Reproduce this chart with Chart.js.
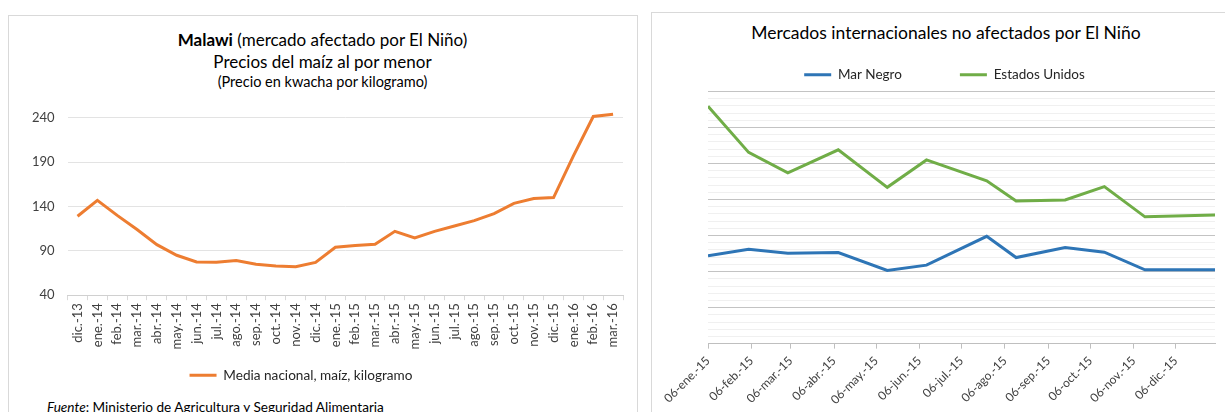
<!DOCTYPE html>
<html>
<head>
<meta charset="utf-8">
<script src="https://cdn.jsdelivr.net/npm/chart.js@4.4.0/dist/chart.umd.min.js"></script>
<style>
  body { margin: 0; width: 1225px; height: 412px; overflow: hidden; background: #fff; font-family: Lato, sans-serif; }
  .panel { position: absolute; border: 1px solid #d9d9d9; border-bottom: none; }
  .box { position: absolute; }
  .ttl { position: absolute; text-align: center; color: #000; white-space: nowrap; }
</style>
</head>
<body>
<div class="panel" style="left:8px; top:15px; width:628px; height:420px;"></div>
<div class="panel" style="left:651px; top:12px; width:600px; height:420px;"></div>

<div class="ttl" style="left:9px; width:627px; top:29px; font-size:17px; line-height:22px;">
  <b>Malawi</b> (mercado afectado por El Niño)<br>Precios del maíz al por menor
</div>
<div class="ttl" style="left:9px; width:627px; top:72px; font-size:14.5px; line-height:19px;">(Precio en kwacha por kilogramo)</div>
<div class="ttl" style="left:47px; top:398px; font-size:13.6px; line-height:18px; text-align:left;"><i>Fuente</i>: Ministerio de Agricultura y Seguridad Alimentaria</div>

<div class="ttl" style="left:652px; width:588px; top:21px; font-size:17.5px; line-height:24px;">Mercados internacionales no afectados por El Niño</div>

<div class="box" style="left:9px; top:97px; width:627px; height:298px;"><canvas id="malawi"></canvas></div>
<div class="box" style="left:652px; top:9px; width:588px; height:403px;"><canvas id="intl"></canvas></div>

<script>
// Malawi, precio del maíz al por menor (kwacha/kg)
const months = ['dic.-13', 'ene.-14', 'feb.-14', 'mar.-14', 'abr.-14', 'may.-14', 'jun.-14', 'jul.-14',
  'ago.-14', 'sep.-14', 'oct.-14', 'nov.-14', 'dic.-14', 'ene.-15', 'feb.-15', 'mar.-15', 'abr.-15',
  'may.-15', 'jun.-15', 'jul.-15', 'ago.-15', 'sep.-15', 'oct.-15', 'nov.-15', 'dic.-15', 'ene.-16',
  'feb.-16', 'mar.-16'];
const mediaNacional = [129, 147, 130, 114, 97, 85, 77.5, 77, 79, 75, 73, 72, 77, 94, 96, 97.5, 112,
  104.5, 112, 118, 124, 132, 143.5, 149, 150, 197, 241.5, 244];

// mercados internacionales
const priceDates = ['2015-01-06', '2015-02-04', '2015-03-04', '2015-04-09', '2015-05-14', '2015-06-11',
  '2015-07-24', '2015-08-14', '2015-09-18', '2015-10-16', '2015-11-14', '2016-01-03'];
const marNegro = [154.4, 156.2, 155.1, 155.3, 150.3, 151.8, 159.8, 153.9, 156.7, 155.4, 150.5, 150.5];
const estadosUnidos = [195.9, 183.1, 177.4, 183.8, 173.4, 181, 175.2, 169.6, 169.9, 173.6, 165.2, 165.7];
const tickDates = ['2015-01-06', '2015-02-06', '2015-03-06', '2015-04-06', '2015-05-06', '2015-06-06',
  '2015-07-06', '2015-08-06', '2015-09-06', '2015-10-06', '2015-11-06', '2015-12-06'];
const tickLabels = ['06-ene.-15', '06-feb.-15', '06-mar.-15', '06-abr.-15', '06-may.-15', '06-jun.-15',
  '06-jul.-15', '06-ago.-15', '06-sep.-15', '06-oct.-15', '06-nov.-15', '06-dic.-15'];

function toDay(s) {
  return Date.UTC(+s.slice(0, 4), +s.slice(5, 7) - 1, +s.slice(8, 10)) / 864e5;
}

Chart.defaults.font.family = 'Lato, sans-serif';
Chart.defaults.animation = false;

// moves the legend sideways (Excel did not centre it)
const legendShift = {
  id: 'legendShift',
  afterLayout(chart, args, opts) {
    chart.legend.left += opts.dx || 0;
    chart.legend.right += opts.dx || 0;
  }
};

new Chart(document.getElementById('malawi'), {
  type: 'line',
  data: {
    labels: months,
    datasets: [{
      label: 'Media nacional, maíz, kilogramo',
      data: mediaNacional,
      borderColor: '#ED7D31',
      backgroundColor: '#ED7D31',
      borderWidth: 3,
      pointRadius: 0,
      tension: 0,
      clip: 10
    }]
  },
  plugins: [legendShift],
  options: {
    responsive: true,
    maintainAspectRatio: false,
    layout: { padding: { left: 10, right: 13, top: 11, bottom: 3 } },
    plugins: {
      legendShift: { dx: -20 },
      tooltip: { enabled: false },
      legend: {
        position: 'bottom',
        labels: {
          usePointStyle: true, pointStyle: 'line', pointStyleWidth: 27,
          font: { size: 13.6 }, color: '#262626', padding: 16
        }
      }
    },
    scales: {
      x: {
        offset: true,
        grid: { offset: true, drawOnChartArea: false, tickLength: 5, color: '#d9d9d9' },
        border: { color: '#d0d0d0' },
        ticks: { minRotation: 90, maxRotation: 90, autoSkip: false, font: { size: 13 }, color: '#404040', padding: 3 }
      },
      y: {
        min: 40, max: 240,
        grid: { drawTicks: false, color: '#e3e3e3' },
        border: { display: false },
        ticks: { stepSize: 50, padding: 13, font: { size: 13 }, color: '#404040' }
      }
    }
  }
});

const tickDays = tickDates.map(toDay);

new Chart(document.getElementById('intl'), {
  type: 'line',
  data: {
    datasets: [{
      label: 'Mar Negro',
      data: priceDates.map((d, i) => ({ x: toDay(d), y: marNegro[i] })),
      borderColor: '#2E75B6',
      backgroundColor: '#2E75B6',
      borderWidth: 3,
      pointRadius: 0,
      tension: 0
    }, {
      label: 'Estados Unidos',
      data: priceDates.map((d, i) => ({ x: toDay(d), y: estadosUnidos[i] })),
      borderColor: '#70AD47',
      backgroundColor: '#70AD47',
      borderWidth: 3,
      pointRadius: 0,
      tension: 0
    }]
  },
  plugins: [legendShift],
  options: {
    responsive: true,
    maintainAspectRatio: false,
    layout: { padding: { left: 56, right: 25, top: 1, bottom: 0 } },
    plugins: {
      legendShift: { dx: -17 },
      tooltip: { enabled: false },
      legend: {
        position: 'top',
        labels: {
          usePointStyle: true, pointStyle: 'line', pointStyleWidth: 27,
          font: { size: 13.5 }, color: '#262626', padding: 58
        }
      }
    },
    scales: {
      x: {
        type: 'linear',
        min: toDay('2015-01-06'),
        max: toDay('2016-01-03'),
        afterBuildTicks: (axis) => { axis.ticks = tickDays.map(v => ({ value: v })); },
        grid: { drawOnChartArea: false, tickLength: 5, color: '#bfbfbf' },
        border: { color: '#bfbfbf' },
        ticks: {
          minRotation: 45, maxRotation: 45, autoSkip: false, padding: 5,
          font: { size: 12 }, color: '#404040',
          callback: (v) => tickLabels[tickDays.indexOf(v)]
        }
      },
      y: {
        min: 130, max: 200,
        grid: {
          drawTicks: false,
          color: (c) => (c.tick && c.tick.value % 10 === 0) ? '#c3c3c3' : '#f0f0f0'
        },
        border: { display: false },
        ticks: { display: false, stepSize: 2 }
      }
    }
  }
});
</script>
</body>
</html>
